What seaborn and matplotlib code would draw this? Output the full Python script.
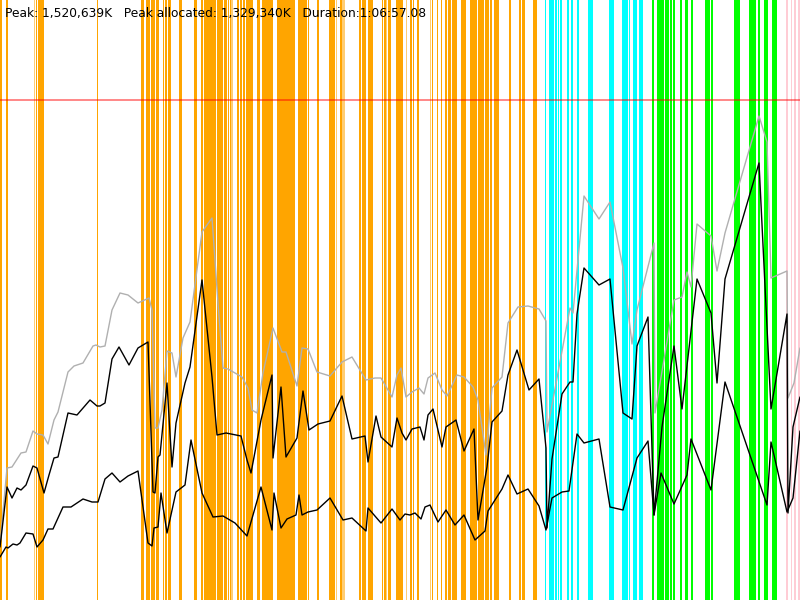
import matplotlib
matplotlib.use('Agg')
import seaborn as sns
import matplotlib.pyplot as plt
import pandas as pd

# header text
peak = "1,520,639K"
peak_alloc = "1,329,340K"
duration = "1:06:57.08"

# limit line (memory units of the chart, 0..600)
limit_level = 500

# phase bands along time axis (start, end)
orange_spans = [(0, 2), (6, 7.7), (36, 37), (38, 44), (96.7, 97.7),
                (140.7, 144.3), (145.7, 149.7), (151, 155), (155.7, 159),
                (163.3, 164.3), (165, 166.7), (168, 170.7), (179.3, 182.3),
                (194.3, 197.3), (201.3, 203.3), (204.3, 211.7), (212.3, 216),
                (217.3, 223.3), (224, 226.7), (227.7, 229.3), (230, 231),
                (237.3, 239), (240.3, 241.7), (243.3, 245.3), (246, 253.3),
                (256.7, 260), (261.7, 273.3), (276.7, 281.7), (282.3, 291.7),
                (292, 295), (298.3, 306.7), (307.7, 309), (317, 319),
                (329, 335), (340, 342.3), (359, 360.7), (362.3, 365.7),
                (367.7, 373.3), (381.7, 383.3), (384, 385.7), (387.7, 391),
                (396, 403.3), (410, 411.7), (412.7, 414), (416.7, 418.7),
                (432, 432.7), (436.7, 437.7), (440.7, 442), (445.3, 447.3),
                (448.3, 451), (451.7, 456.7), (461, 466), (470, 476.7),
                (477.7, 484), (485, 489), (490, 492), (493.7, 499.3),
                (509, 511), (519, 521), (522, 525), (533.3, 537.3)]
orange_light_spans = [(34, 35), (231.3, 232.7), (335.7, 336.7), (342.3, 345),
                      (386, 387.3), (405.7, 406.7), (430, 431)]
cyan_spans = [(545, 546.3), (549, 554), (554.7, 557.3), (558, 559.3),
              (560.3, 561.7), (567, 569), (571.3, 573.3), (577.3, 578.7),
              (587.7, 593.3), (609, 614), (621.7, 627.7), (628.7, 630),
              (632.7, 637.3), (639, 642.7)]
green_spans = [(652, 653.7), (657, 663.7), (664.7, 669), (670, 672.3),
               (673.3, 675), (680, 681.7), (685.3, 687.5), (691, 692.7),
               (705, 709.5), (711, 713), (734, 740), (748.5, 756),
               (757.7, 759.7), (764, 768.3), (771.7, 777)]
pink_spans = [(786, 788.3), (791, 792.3), (794, 795.8), (798.3, 800)]

# memory series (time, value)
heap_committed = [(0, 55), (7, 132), (12, 133), (21, 147), (26, 148), (33, 169), (37, 166),
                  (43, 165), (48, 156), (54, 180), (58, 188), (68, 228), (74, 234), (83, 237),
                  (93, 254), (96, 255), (100, 253), (105, 254), (112, 290), (120, 307),
                  (128, 305), (138, 297), (149, 302), (152, 290), (155, 172), (158, 172),
                  (162, 190), (167, 249), (172, 247), (176, 223), (183, 262), (190, 278),
                  (202, 368), (212, 382), (218, 297), (223, 232), (228, 231), (242, 223),
                  (248, 212), (252, 190), (257, 187), (263, 227), (273, 272), (282, 248),
                  (286, 248), (297, 214), (302, 252), (308, 251), (317, 228), (330, 224),
                  (342, 238), (352, 243), (366, 220), (375, 222), (381, 222), (392, 203),
                  (397, 225), (401, 232), (406, 203), (412, 208), (419, 212), (424, 206),
                  (428, 222), (435, 227), (442, 210), (447, 204), (457, 225), (464, 223),
                  (473, 213), (478, 200), (486, 145), (492, 212), (502, 223), (508, 277),
                  (518, 293), (528, 294), (539, 291), (546, 279), (547, 168), (570, 292),
                  (573, 287), (584, 404), (599, 381), (610, 398), (623, 332), (632, 256),
                  (637, 290), (654, 357), (655, 187), (674, 300), (682, 303), (687, 328),
                  (691, 313), (697, 376), (711, 364), (717, 329), (725, 367), (759, 484),
                  (767, 458), (771, 322), (787, 329), (788, 202), (794, 217), (800, 252)]

heap_used = [(0, 53), (7, 113), (12, 102), (17, 112), (21, 110), (26, 115), (33, 134),
             (37, 132), (44, 107), (49, 125), (54, 142), (58, 143), (68, 187), (77, 185),
             (90, 200), (97, 194), (100, 194), (105, 197), (112, 241), (119, 253),
             (129, 235), (138, 252), (148, 258), (153, 108), (155, 107), (158, 143),
             (160, 145), (167, 217), (172, 133), (176, 177), (185, 217), (190, 233),
             (202, 320), (212, 223), (217, 165), (226, 167), (241, 164), (247, 140),
             (251, 127), (261, 180), (272, 225), (273, 142), (281, 213), (286, 143),
             (297, 162), (303, 209), (309, 170), (318, 176), (330, 179), (342, 204),
             (352, 161), (365, 164), (368, 138), (376, 184), (381, 163), (392, 153),
             (397, 182), (402, 167), (406, 160), (412, 171), (420, 173), (424, 160),
             (428, 185), (433, 191), (442, 153), (446, 173), (456, 180), (464, 149),
             (474, 171), (478, 80), (487, 133), (492, 178), (502, 189), (508, 225),
             (517, 250), (529, 210), (539, 221), (546, 152), (547, 72), (552, 141),
             (562, 206), (570, 218), (573, 218), (577, 286), (584, 332), (599, 315),
             (610, 321), (623, 187), (632, 181), (637, 254), (648, 283), (654, 85),
             (662, 173), (674, 254), (682, 191), (697, 321), (711, 287), (717, 217),
             (725, 321), (759, 437), (771, 191), (787, 286), (788, 87), (793, 173),
             (800, 203)]

live_after_gc = [(0, 43), (3, 48), (6, 53), (8, 52), (13, 56), (17, 55), (20, 57), (26, 67),
                 (33, 66), (37, 53), (43, 60), (48, 71), (53, 71), (63, 93), (71, 93),
                 (83, 101), (92, 98), (98, 98), (105, 121), (112, 127), (120, 118),
                 (128, 124), (138, 129), (148, 57), (152, 54), (154, 72), (158, 73),
                 (161, 107), (167, 67), (176, 108), (185, 115), (191, 160), (202, 107),
                 (213, 83), (223, 84), (235, 77), (247, 64), (261, 113), (272, 70),
                 (274, 107), (281, 72), (287, 81), (296, 85), (299, 105), (302, 85),
                 (308, 88), (317, 90), (330, 102), (343, 80), (352, 82), (366, 69),
                 (368, 92), (381, 77), (392, 91), (400, 80), (405, 86), (410, 85),
                 (415, 87), (421, 81), (425, 93), (430, 95), (438, 78), (446, 90),
                 (455, 75), (464, 85), (475, 60), (485, 69), (488, 89), (502, 111),
                 (508, 125), (517, 106), (528, 111), (539, 94), (546, 70), (552, 102),
                 (562, 108), (569, 109), (577, 166), (584, 157), (599, 161), (610, 93),
                 (623, 90), (637, 142), (648, 159), (654, 85), (661, 127), (674, 96),
                 (687, 125), (691, 161), (711, 110), (725, 218), (767, 95), (771, 158),
                 (787, 88), (793, 102), (800, 169)]

sns.set_style("white")

fig = plt.figure(figsize=(8, 6), dpi=100)
ax = fig.add_axes([0, 0, 1, 1])

# phase bands
for spans, col, a in [(orange_spans, "#ffa500", 1.0), (orange_light_spans, "#ffa500", 0.55),
                      (cyan_spans, "#00ffff", 1.0), (green_spans, "#00ff00", 1.0),
                      (pink_spans, "#ffc0cb", 0.8)]:
    for s, e in spans:
        ax.axvspan(s, e, color=col, alpha=a, lw=0)

ax.axhline(limit_level, color="#ff0000", alpha=0.55, lw=1.2)

# series
for series, col in [(heap_committed, "#b0b0b0"), (heap_used, "black"), (live_after_gc, "black")]:
    df = pd.DataFrame(series, columns=["t", "mem"])
    sns.lineplot(data=df, x="t", y="mem", sort=False, estimator=None,
                 color=col, lw=1.0, ax=ax)

ax.set_xlim(0, 800)
ax.set_ylim(0, 600)
ax.axis("off")

ax.text(5, 587, f"Peak: {peak}   Peak allocated: {peak_alloc}   Duration:{duration}",
        fontsize=8.8, color="black", va="center", ha="left", family="DejaVu Sans")

fig.savefig("out.png", dpi=100)
